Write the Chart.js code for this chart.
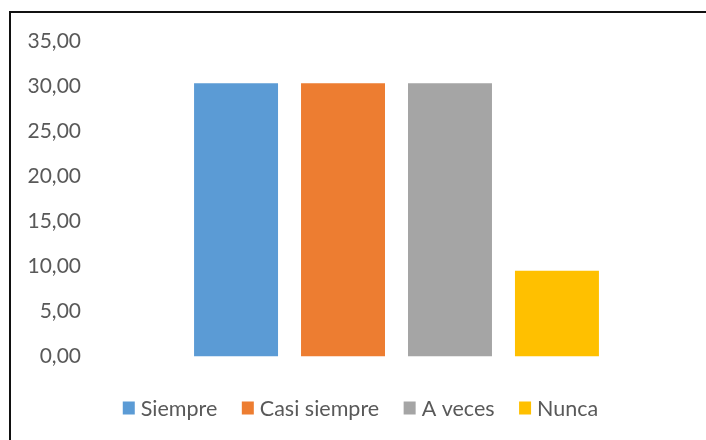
<!DOCTYPE html>
<html>
<head>
<meta charset="utf-8">
<script src="https://cdn.jsdelivr.net/npm/chart.js@4.4.1/dist/chart.umd.min.js"></script>
<style>
    body { margin: 0; overflow: hidden; background: #fff; }
    #wrap { position: relative; width: 706px; height: 440px; }
    #frame {
        position: absolute; left: 9px; top: 11px; width: 800px; height: 600px;
        border-left: 2px solid #111; border-top: 2px solid #111; pointer-events: none;
    }
</style>
</head>
<body>
<div id="wrap">
    <canvas id="plot" width="706" height="440"></canvas>
    <div id="frame"></div>
</div>
<script>
"use strict";

const categories = [''];
const seriesNames = ['Siempre', 'Casi siempre', 'A veces', 'Nunca'];
const seriesValues = [30.3, 30.3, 30.3, 9.5];
const seriesColors = ['#5B9BD5', '#ED7D31', '#A5A5A5', '#FFC000'];
const yTicks = [0, 5, 10, 15, 20, 25, 30, 35];

const textColor = '#595959';
const fontFamily = 'Lato, "Open Sans", sans-serif';

// Excel-style legend drawn under the plot
const legendPlugin = {
    id: 'bottomLegend',
    afterDraw(chart) {
        const ctx = chart.ctx;
        const box = 12, gapText = 6, gapItem = 24.5, cy = 408, cx = 360.5;
        ctx.save();
        ctx.font = '21.5px ' + fontFamily;
        ctx.textBaseline = 'middle';
        let widths = chart.data.datasets.map(ds => box + gapText + ctx.measureText(ds.label).width);
        let total = widths.reduce((a, b) => a + b, 0) + gapItem * (widths.length - 1);
        let x = cx - total / 2;
        chart.data.datasets.forEach((ds, i) => {
            ctx.fillStyle = ds.backgroundColor;
            ctx.fillRect(x, cy - 6.5, box, 13);
            ctx.fillStyle = textColor;
            ctx.fillText(ds.label, x + box + gapText, cy + 1);
            x += widths[i] + gapItem;
        });
        ctx.restore();
    }
};

const datasets = seriesNames.map((name, i) => ({
    label: name,
    data: [seriesValues[i]],
    backgroundColor: seriesColors[i],
    borderWidth: 0,
    barPercentage: 0.785,
    categoryPercentage: 0.698
}));

new Chart(document.getElementById('plot'), {
    type: 'bar',
    data: { labels: categories, datasets: datasets },
    options: {
        responsive: false,
        animation: false,
        layout: { padding: { left: 26, right: 3, top: 41, bottom: 83.5 } },
        plugins: {
            legend: { display: false },
            tooltip: { enabled: false }
        },
        scales: {
            x: { display: false },
            y: {
                min: 0,
                max: 35,
                afterBuildTicks: (scale) => { scale.ticks = yTicks.map(v => ({ value: v })); },
                afterFit: (scale) => { scale.width = 64; },
                grid: { display: false, drawTicks: false },
                border: { display: false },
                ticks: {
                    padding: 9,
                    color: textColor,
                    font: { family: fontFamily, size: 21 },
                    callback: (v) => v.toFixed(2).replace('.', ',')
                }
            }
        }
    },
    plugins: [legendPlugin]
});
</script>
</body>
</html>
